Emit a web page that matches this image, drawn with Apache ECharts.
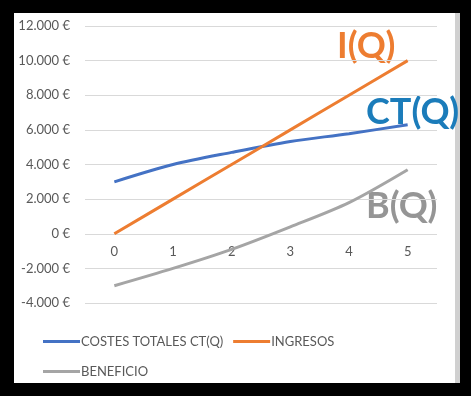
<!DOCTYPE html>
<html>
<head>
<meta charset="utf-8">
<script src="https://cdn.jsdelivr.net/npm/echarts@6/dist/echarts.min.js"></script>
<style>
html,body{margin:0;padding:0;background:#000;width:471px;height:396px;overflow:hidden;}
#panel{position:absolute;left:14px;top:13px;width:441px;height:370px;background:#fff;border-right:5px solid #d0d0d0;}
#chart{position:absolute;left:0;top:0;width:471px;height:396px;}
</style>
</head>
<body>
<div id="panel"></div>
<div id="chart"></div>
<script>
const categories = ['0', '1', '2', '3', '4', '5'];
const costesTotales = [3000, 4000, 4700, 5330, 5780, 6300];
const ingresos = [0, 2000, 4000, 6000, 8000, 10000];
const beneficio = [-3000, -2000, -900, 400, 1800, 3700];
const seriesNames = ['COSTES TOTALES CT(Q)', 'INGRESOS', 'BENEFICIO'];
const annotations = ['I(Q)', 'CT(Q)', 'B(Q)'];

function fmtEuro(v) {
  const s = Math.abs(v).toString().replace(/\B(?=(\d{3})+(?!\d))/g, '.');
  return (v < 0 ? '-' : '') + s + ' €';
}

const chart = echarts.init(document.getElementById('chart'), null, {renderer: 'canvas'});
const font = 'Lato, "Open Sans", sans-serif';
chart.setOption({
  backgroundColor: 'transparent',
  animation: false,
  textStyle: {fontFamily: font},
  grid: {left: 85, right: 34, top: 26, bottom: 93},
  xAxis: {
    type: 'category',
    data: categories,
    boundaryGap: true,
    axisLine: {show: false},
    axisTick: {show: false},
    axisLabel: {color: '#595959', fontSize: 13, margin: 12, fontFamily: font},
    splitLine: {show: false}
  },
  yAxis: {
    type: 'value',
    min: -4000, max: 12000, interval: 2000,
    axisLine: {show: false},
    axisTick: {show: false},
    axisLabel: {color: '#595959', fontSize: 13, margin: 15, fontFamily: font, formatter: fmtEuro},
    splitLine: {lineStyle: {color: '#d9d9d9', width: 1}}
  },
  legend: [
    {
      data: [seriesNames[0], seriesNames[1]],
      left: 38, top: 330,
      icon: 'rect', itemWidth: 37, itemHeight: 3, itemGap: 10,
      textStyle: {color: '#595959', fontSize: 13, fontFamily: font, padding: [0, 0, 0, -4]}
    },
    {
      data: [seriesNames[2]],
      left: 38, top: 360,
      icon: 'rect', itemWidth: 37, itemHeight: 3, itemGap: 10,
      textStyle: {color: '#595959', fontSize: 13, fontFamily: font, padding: [0, 0, 0, -4]}
    }
  ],
  series: [
    {name: seriesNames[0], type: 'line', data: costesTotales, smooth: 0.3, showSymbol: false,
     lineStyle: {color: '#4472c4', width: 3}, itemStyle: {color: '#4472c4'}, z: 3},
    {name: seriesNames[1], type: 'line', data: ingresos, smooth: 0.3, showSymbol: false,
     lineStyle: {color: '#ed7d31', width: 3}, itemStyle: {color: '#ed7d31'}, z: 4},
    {name: seriesNames[2], type: 'line', data: beneficio, smooth: 0.3, showSymbol: false,
     lineStyle: {color: '#a5a5a5', width: 3}, itemStyle: {color: '#a5a5a5'}, z: 2}
  ],
  graphic: [
    {type: 'text', left: 337, top: 28, style: {text: annotations[0], fill: '#ed7d31', font: 'bold 36px ' + font}},
    {type: 'text', left: 366, top: 94, style: {text: annotations[1], fill: '#1b7cba', font: 'bold 36px ' + font}},
    {type: 'text', left: 366, top: 188, style: {text: annotations[2], fill: '#959595', font: 'bold 36px ' + font}}
  ]
});
// place the category labels just under the zero line (as in the reference)
const yZero = chart.convertToPixel({yAxisIndex: 0}, 0);
const yMin = chart.convertToPixel({yAxisIndex: 0}, -4000);
chart.setOption({xAxis: {offset: -(yMin - yZero)}});
</script>
</body>
</html>
